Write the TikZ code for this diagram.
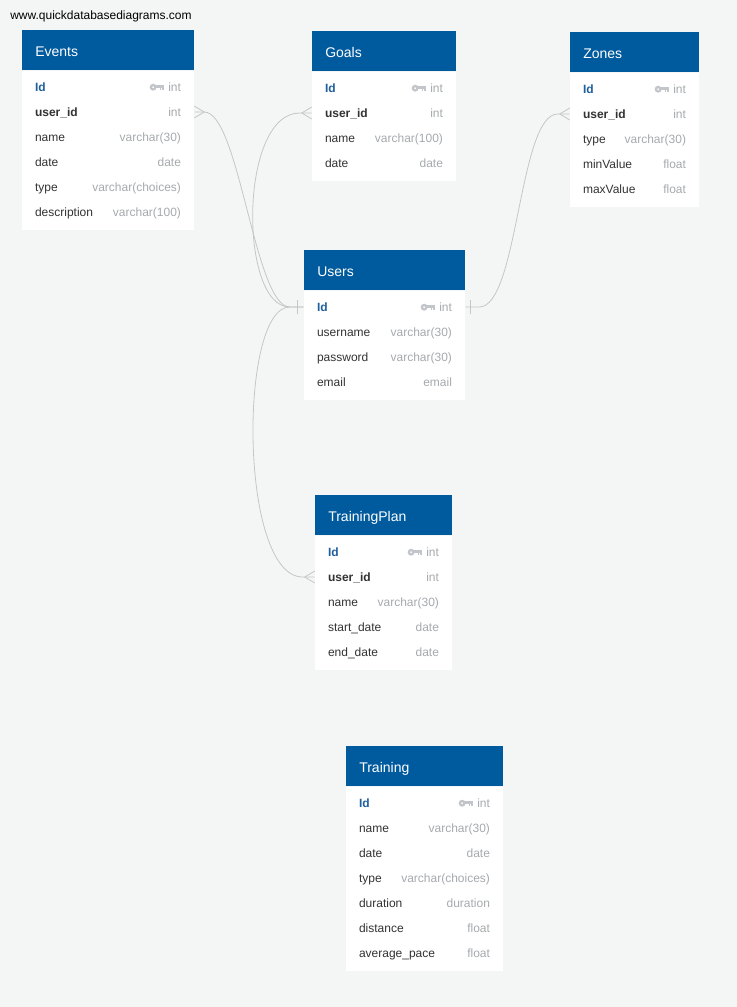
\documentclass[tikz,border=0pt]{standalone}
\usepackage{fontspec}
\setmainfont{Liberation Sans}
\usetikzlibrary{positioning}

\definecolor{bgcol}{HTML}{F4F6F6}
\definecolor{qdblue}{HTML}{005A9E}
\definecolor{idblue}{HTML}{1F5F9E}
\definecolor{namegrey}{HTML}{333333}
\definecolor{typegrey}{HTML}{A6AAAE}
\definecolor{keygrey}{HTML}{C2C6CA}
\definecolor{linegrey}{HTML}{C6C6C6}

\newcommand{\keyicon}{\tikz[baseline=-2.9pt]{%
  \fill[keygrey, even odd rule] (2.6pt,0) circle (2.6pt) circle (0.9pt);
  \fill[keygrey] (4.6pt,-0.6pt) rectangle (11pt,1.4pt);
  \fill[keygrey] (7.4pt,-0.6pt) rectangle (8.6pt,-2.2pt);
  \fill[keygrey] (9.6pt,-0.6pt) rectangle (11pt,-2.2pt);}}
\newcommand{\pk}[1]{\textcolor{idblue}{\bfseries #1}}
\newcommand{\fk}[1]{{\bfseries #1}}
\newcommand{\ty}[1]{\textcolor{typegrey}{#1}}

\begin{document}
\begin{tikzpicture}[x=0.75pt, y=-0.75pt,
  head/.style={fill=qdblue, text=white, anchor=north west, minimum height=30pt,
    inner xsep=9.75pt, text height=11.2pt, text depth=2.2pt, font=\fontsize{10.5}{12}\selectfont},
  body/.style={fill=white, anchor=north, inner sep=0pt},
  row/.style={inner xsep=9.75pt, inner ysep=0pt, text height=8.1pt, text depth=2pt,
    text=namegrey, font=\fontsize{9}{11}\selectfont},
  rel/.style={draw=linegrey, line width=0.6pt}
]
\path[fill=bgcol, use as bounding box] (0,0) rectangle (737,1007);
\node[anchor=west, inner sep=0pt, font=\fontsize{9}{11}\selectfont] (site) at (10,16) {www.quickdatabasediagrams.com};

% Events
\node[head, text width=109.5pt] (events) at (22,30) {Events};
\node[body, minimum width=129pt, minimum height=119.25pt, below=0pt of events] (events-body) {};
\node[row, text width=109.5pt] (events-id) at (108,87) {\pk{Id}\hfill\keyicon\hspace{3pt}\ty{int}};
\node[row, text width=109.5pt] (events-user) at (108,112) {\fk{user\_id}\hfill\ty{int}};
\foreach \fname/\ftype [count=\i from 3] in {name/varchar(30), date/date, type/varchar(choices), description/varchar(100)}
  \node[row, text width=109.5pt] (events-\i) at (108,62+25*\i) {\fname\hfill\ty{\ftype}};

% Goals
\node[head, text width=88.5pt] (goals) at (312,31) {Goals};
\node[body, minimum width=108pt, minimum height=81.75pt, below=0pt of goals] (goals-body) {};
\node[row, text width=88.5pt] (goals-id) at (384,88) {\pk{Id}\hfill\keyicon\hspace{3pt}\ty{int}};
\node[row, text width=88.5pt] (goals-user) at (384,113) {\fk{user\_id}\hfill\ty{int}};
\foreach \fname/\ftype [count=\i from 3] in {name/varchar(100), date/date}
  \node[row, text width=88.5pt] (goals-\i) at (384,63+25*\i) {\fname\hfill\ty{\ftype}};

% Zones
\node[head, text width=77.25pt] (zones) at (570,32) {Zones};
\node[body, minimum width=96.75pt, minimum height=100.5pt, below=0pt of zones] (zones-body) {};
\node[row, text width=77.25pt] (zones-id) at (634.5,89) {\pk{Id}\hfill\keyicon\hspace{3pt}\ty{int}};
\node[row, text width=77.25pt] (zones-user) at (634.5,114) {\fk{user\_id}\hfill\ty{int}};
\foreach \fname/\ftype [count=\i from 3] in {type/varchar(30), minValue/float, maxValue/float}
  \node[row, text width=77.25pt] (zones-\i) at (634.5,64+25*\i) {\fname\hfill\ty{\ftype}};

% Users
\node[head, text width=101.25pt] (users) at (304,250) {Users};
\node[body, minimum width=120.75pt, minimum height=81.75pt, below=0pt of users] (users-body) {};
\node[row, text width=101.25pt] (users-id) at (384.5,307) {\pk{Id}\hfill\keyicon\hspace{3pt}\ty{int}};
\foreach \fname/\ftype [count=\i from 2] in {username/varchar(30), password/varchar(30), email/email}
  \node[row, text width=101.25pt] (users-\i) at (384.5,282+25*\i) {\fname\hfill\ty{\ftype}};

% TrainingPlan
\node[head, text width=83.25pt] (plan) at (315,495) {TrainingPlan};
\node[body, minimum width=102.75pt, minimum height=100.5pt, below=0pt of plan] (plan-body) {};
\node[row, text width=83.25pt] (plan-id) at (383.5,552) {\pk{Id}\hfill\keyicon\hspace{3pt}\ty{int}};
\node[row, text width=83.25pt] (plan-user) at (383.5,577) {\fk{user\_id}\hfill\ty{int}};
\foreach \fname/\ftype [count=\i from 3] in {name/varchar(30), start\_date/date, end\_date/date}
  \node[row, text width=83.25pt] (plan-\i) at (383.5,527+25*\i) {\fname\hfill\ty{\ftype}};

% Training
\node[head, text width=98.25pt] (training) at (346,746) {Training};
\node[body, minimum width=117.75pt, minimum height=138pt, below=0pt of training] (training-body) {};
\node[row, text width=98.25pt] (training-id) at (424.5,803) {\pk{Id}\hfill\keyicon\hspace{3pt}\ty{int}};
\foreach \fname/\ftype [count=\i from 2] in {name/varchar(30), date/date, type/varchar(choices), duration/duration, distance/float, average\_pace/float}
  \node[row, text width=98.25pt] (training-\i) at (424.5,778+25*\i) {\fname\hfill\ty{\ftype}};

% relations
\draw[rel] (events-user.east) -- ++(10,0) .. controls +(35,0) and +(-35,0) .. ([xshift=-10.5pt]users-id.west) -- (users-id.west);
\draw[rel] (goals-user.west) -- ++(-12,0) .. controls +(-61,0) and +(-51,0) .. ([xshift=-10.5pt]users-id.west);
\draw[rel] (users-id.west) -- ++(-14,0) .. controls +(-51,0) and +(-64,0) .. ([xshift=-9pt]plan-user.west) -- (plan-user.west);
\draw[rel] (users-id.east) -- ++(14,0) .. controls +(39,0) and +(-39,0) .. ([xshift=-9pt]zones-user.west) -- (zones-user.west);
% crow's feet
\draw[rel] (events-user.east) ++(0,-6) -- ++(10,6) -- ++(-10,6);
\draw[rel] (goals-user.west) ++(0,-6) -- ++(-10,6) -- ++(10,6);
\draw[rel] (zones-user.west) ++(0,-6) -- ++(-10,6) -- ++(10,6);
\draw[rel] (plan-user.west) ++(0,-6) -- ++(-10,6) -- ++(10,6);
% bars
\draw[rel] (users-id.west) ++(-6,-7) -- ++(0,14);
\draw[rel] (users-id.east) ++(5,-7) -- ++(0,14);
\end{tikzpicture}
\end{document}
